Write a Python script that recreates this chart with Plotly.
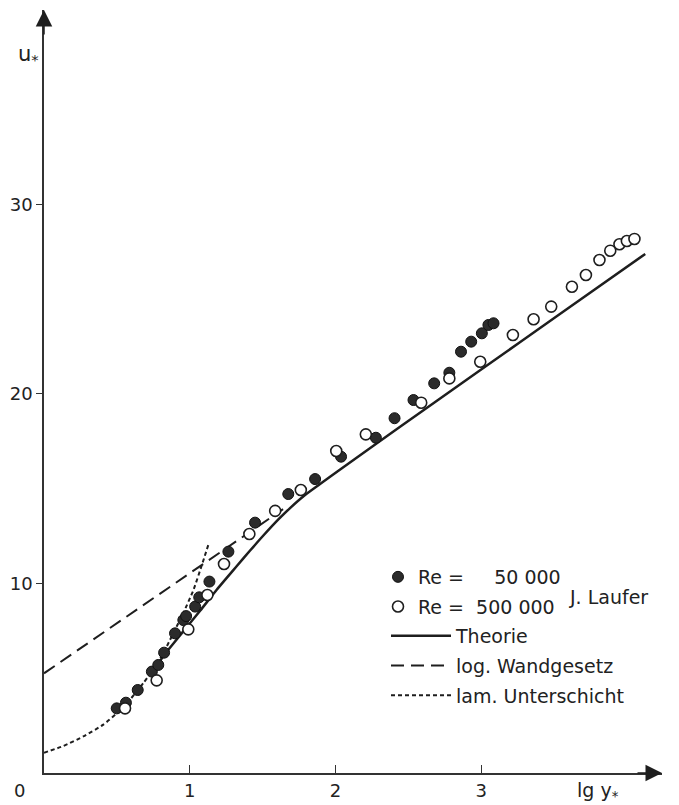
import plotly.graph_objects as go

# ---- data (lg y*, u*) ----
re50_lg = [0.499, 0.562, 0.643, 0.740, 0.784, 0.824, 0.899, 0.956, 0.975, 1.037, 1.065, 1.135,
           1.265, 1.448, 1.676, 1.860, 2.038, 2.277, 2.405, 2.535, 2.677, 2.781, 2.861, 2.931,
           3.004, 3.049, 3.084]
re50_u = [3.41, 3.71, 4.38, 5.35, 5.70, 6.35, 7.37, 8.07, 8.28, 8.78, 9.27, 10.10,
          11.68, 13.21, 14.72, 15.51, 16.69, 17.69, 18.72, 19.68, 20.56, 21.12, 22.23, 22.76,
          23.20, 23.64, 23.73]

re500_lg = [0.556, 0.773, 0.990, 1.121, 1.235, 1.409, 1.586, 1.762, 2.005, 2.208, 2.588, 2.781,
            2.993, 3.217, 3.359, 3.480, 3.622, 3.718, 3.811, 3.885, 3.948, 3.999, 4.051]
re500_u = [3.41, 4.89, 7.58, 9.39, 11.03, 12.61, 13.83, 14.93, 16.99, 17.87, 19.54, 20.82,
           21.70, 23.11, 23.94, 24.61, 25.66, 26.28, 27.07, 27.56, 27.90, 28.07, 28.18]

theory_lg = [0.728, 0.830, 0.933, 1.071, 1.185, 1.323, 1.414, 1.505, 1.608, 1.688, 1.791,
             1.894, 2.032, 2.443, 2.992, 3.542, 4.125]
theory_u = [5.17, 6.28, 7.26, 8.56, 9.67, 10.92, 11.74, 12.53, 13.38, 13.98, 14.67,
            15.25, 16.02, 18.27, 21.25, 24.23, 27.39]

wall_lg = [0.0, 1.64]
wall_u = [5.26, 13.92]

lam_lg = [0.0, 0.132, 0.270, 0.407, 0.499, 0.590, 0.682, 0.762, 0.830, 0.956, 1.025, 1.082, 1.128]
lam_u = [1.07, 1.42, 1.93, 2.55, 3.15, 3.87, 4.75, 5.60, 6.50, 8.45, 9.65, 10.95, 12.05]

x_ticks = [1, 2, 3]
y_ticks = [10, 20, 30]

FONT = "DejaVu Sans"
INK = "#1e1e1e"
TXT = "#222"

fig = go.Figure()

fig.add_trace(go.Scatter(x=lam_lg, y=lam_u, mode="lines", name="lam. Unterschicht",
                         line=dict(color=INK, width=2, dash="4px,3px", shape="spline", smoothing=0.5),
                         legend="legend2", legendgroup="c", legendrank=5))
fig.add_trace(go.Scatter(x=wall_lg, y=wall_u, mode="lines", name="log. Wandgesetz",
                         line=dict(color=INK, width=2, dash="13px,7px"),
                         legend="legend2", legendgroup="b", legendrank=4))
fig.add_trace(go.Scatter(x=theory_lg, y=theory_u, mode="lines", name="Theorie",
                         line=dict(color=INK, width=2.5, shape="spline", smoothing=0.6),
                         legend="legend2", legendgroup="a", legendrank=3))
fig.add_trace(go.Scatter(x=re50_lg, y=re50_u, mode="markers",
                         name="Re =\u00a0\u00a0\u00a0\u00a0 50\u00a0000",
                         marker=dict(symbol="circle", size=11, color="#2b2b2b",
                                     line=dict(color="#111", width=1)),
                         legend="legend", legendgroup="f", legendrank=1))
fig.add_trace(go.Scatter(x=re500_lg, y=re500_u, mode="markers",
                         name="Re =\u00a0 500\u00a0000",
                         marker=dict(symbol="circle", size=11, color="white",
                                     line=dict(color=INK, width=1.6)),
                         legend="legend", legendgroup="o", legendrank=2))

annotations = [
    # axis arrows
    dict(x=4.24, y=0, xref="x", yref="y", ax=-26, ay=0, text="", showarrow=True,
         arrowhead=2, arrowsize=2.2, arrowwidth=1.5, arrowcolor=INK),
    dict(x=0, y=40.26, xref="x", yref="y", ax=0, ay=26, text="", showarrow=True,
         arrowhead=2, arrowsize=2.2, arrowwidth=1.5, arrowcolor=INK),
    dict(x=0, y=0, xref="x", yref="y", xshift=-25, yshift=-17, text="0", showarrow=False,
         font=dict(family=FONT, size=18, color=TXT)),
    dict(x=0, y=37.9, xref="x", yref="y", xshift=-16, text="u<sub>*</sub>", showarrow=False,
         font=dict(family=FONT, size=21, color=TXT)),
    dict(x=3.80, y=0, xref="x", yref="y", yshift=-18, text="lg y<sub>*</sub>", showarrow=False,
         font=dict(family=FONT, size=19, color=TXT)),
    dict(x=3.87, y=9.3, xref="x", yref="y", text="J. Laufer", showarrow=False,
         font=dict(family=FONT, size=19, color=TXT)),
]

fig.update_layout(
    width=679, height=805,
    margin=dict(l=44, r=17, t=10, b=32, autoexpand=False),
    paper_bgcolor="white", plot_bgcolor="white",
    showlegend=True,
    annotations=annotations,
    legend=dict(x=(378 - 44) / 618, y=1 - (558 - 10) / 763, xanchor="left", yanchor="top",
                bgcolor="rgba(0,0,0,0)", font=dict(family=FONT, size=19, color=TXT),
                itemwidth=30, traceorder="grouped", tracegroupgap=2),
    legend2=dict(x=(386 - 44) / 618, y=1 - (617 - 10) / 763, xanchor="left", yanchor="top",
                 bgcolor="rgba(0,0,0,0)", font=dict(family=FONT, size=19, color=TXT),
                 itemwidth=60, traceorder="grouped", tracegroupgap=2),
)

fig.update_xaxes(range=[0, 4.24], showgrid=False, zeroline=False, showline=True,
                 automargin=False,
                 linecolor="#333", linewidth=1.5, tickvals=x_ticks,
                 ticktext=[str(v) for v in x_ticks], ticks="inside", ticklen=8,
                 tickwidth=1.3, tickcolor="#333", ticklabelstandoff=1,
                 tickfont=dict(family=FONT, size=18, color=TXT))
fig.update_yaxes(range=[0, 40.26], showgrid=False, zeroline=False, showline=True,
                 automargin=False,
                 linecolor="#333", linewidth=1.5, tickvals=y_ticks,
                 ticktext=[str(v) for v in y_ticks], ticks="outside", ticklen=6,
                 tickwidth=1.3, tickcolor="#333",
                 tickfont=dict(family=FONT, size=18, color=TXT))

fig.write_html("out.html")
